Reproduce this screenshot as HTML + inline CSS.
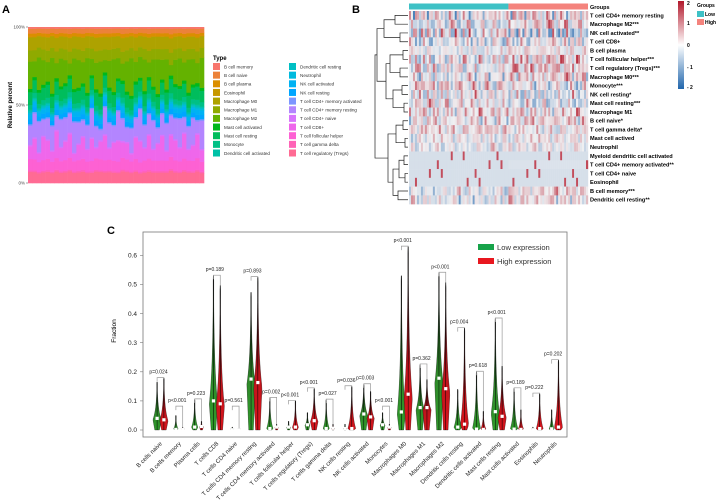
<!DOCTYPE html>
<html><head><meta charset="utf-8"><style>
body{margin:0;background:#fff;}
svg{display:block;font-family:"Liberation Sans",Arial,sans-serif;}
</style></head><body>
<svg id="fig" width="716" height="504" viewBox="0 0 716 504" xmlns="http://www.w3.org/2000/svg">
<defs>
<linearGradient id="gGreen" x1="0" y1="1" x2="0" y2="0"><stop offset="0" stop-color="#2f9a2a"/><stop offset="0.35" stop-color="#2f8a2a"/><stop offset="1" stop-color="#000"/></linearGradient>
<linearGradient id="gRed" x1="0" y1="1" x2="0" y2="0"><stop offset="0" stop-color="#d8141c"/><stop offset="0.35" stop-color="#c0141c"/><stop offset="1" stop-color="#000"/></linearGradient>
<linearGradient id="gScale" x1="0" y1="0" x2="0" y2="1"><stop offset="0" stop-color="#b2182b"/><stop offset="0.5" stop-color="#ffffff"/><stop offset="1" stop-color="#2166ac"/></linearGradient>
</defs>
<text x="2" y="13" font-size="11" font-weight="bold">A</text>
<text x="352" y="13" font-size="11" font-weight="bold">B</text>
<text x="107" y="234" font-size="11" font-weight="bold">C</text>
<g id="panelA"></g>
<g id="panelB"></g>
<g id="panelC"></g>
</svg>
<script>
// ---------- Panel A data ----------
const typeNames = ["B cell memory","B cell naive","B cell plasma","Eosinophil","Macrophage M0","Macrophage M1","Macrophage M2","Mast cell activated","Mast cell resting","Monocyte","Dendritic cell activated","Dendritic cell resting","Neutrophil","NK cell activated","NK cell resting","T cell CD4+ memory activated","T cell CD4+ memory resting","T cell CD4+ naive","T cell CD8+","T cell follicular helper","T cell gamma delta","T cell regulatory (Tregs)"];
const typeMeans = [0.01,0.03,0.02,0.005,0.08,0.07,0.15,0.02,0.08,0.03,0.01,0.01,0.01,0.03,0.03,0.01,0.15,0.01,0.10,0.07,0.01,0.07];
const sampleM2Shift = [0.02,-0.05,0.08,0.01,-0.03,0.10,-0.06,0.04,0.00,-0.08,0.06,0.03,-0.02,0.09,-0.04,0.01,0.05,-0.07,0.02,0.07,-0.01,-0.05,0.04,0.11,-0.03,0.00,0.06,-0.06,0.03,0.08,-0.02,0.05,-0.09,0.01,0.04,-0.04,0.07,0.02,-0.03,0.06];
const sampleCD8Shift = [-0.02,0.03,-0.04,0.05,0.01,-0.03,0.06,-0.01,0.02,0.04,-0.05,0.00,0.03,-0.02,0.05,-0.04,0.01,0.06,-0.03,0.02,0.04,-0.01,0.00,-0.05,0.03,0.05,-0.02,0.04,-0.03,0.01,0.06,-0.04,0.02,0.03,-0.01,0.05,-0.03,0.00,0.04,-0.02];
const pctTicks = ["0%","50%","100%"];
// ---------- Panel B data ----------
const hmRows = ["T cell CD4+ memory resting","Macrophage M2***","NK cell activated**","T cell CD8+","B cell plasma","T cell follicular helper***","T cell regulatory (Tregs)***","Macrophage M0***","Monocyte***","NK cell resting*","Mast cell resting***","Macrophage M1","B cell naive*","T cell gamma delta*","Mast cell actived","Neutrophil","Myeloid dendritic cell activated","T cell CD4+ memory activated**","T cell CD4+ naive","Eosinophil","B cell memory***","Dendritic cell resting**"];
const hmLowMean = [-0.1,-0.2,0.2,-0.1,-0.2,-0.2,-0.2,-0.2,0.2,0.1,0.2,0.0,-0.1,0.1,-0.1,-0.1,-0.3,-0.3,-0.3,-0.3,-0.3,-0.2];
const hmHighMean = [0.1,0.2,-0.2,0.1,0.0,0.2,0.2,0.2,-0.2,-0.1,-0.2,0.0,0.1,-0.1,0.0,0.0,-0.3,-0.25,-0.3,-0.3,0.1,0.1];
const hmSpread = [0.8,0.8,0.8,0.8,0.5,0.8,0.8,0.7,0.8,0.6,0.8,0.8,0.6,0.6,0.5,0.5,0.2,0.3,0.25,0.1,0.6,0.6];
const hmPattern = [0.8,-1.2,0.3,1.6,-0.4,-0.9,2.0,0.1,-1.5,0.6,-0.2,1.1,-0.7,0.4,-1.8,0.9,0.0,-0.5,1.4,-1.0,0.2,0.7,-1.3,1.8,-0.3,0.5,-0.8,1.2,-0.1,-1.6,0.6,0.3,-0.6,1.0,-1.1,0.1,2.2,-0.4,0.8,-0.9,0.4,-1.4,1.5,0.0,-0.2,0.9,-0.7,0.2,1.3];
const scaleTicks = [2,1,0,-1,-2];
// ---------- Panel C data ----------
const cellTypes = ["B cells naive","B cells memory","Plasma cells","T cells CD8","T cells CD4 naive","T cells CD4 memory resting","T cells CD4 memory activated","T cells follicular helper","T cells regulatory (Tregs)","T cells gamma delta","NK cells resting","NK cells activated","Monocytes","Macrophages M0","Macrophages M1","Macrophages M2","Dendritic cells resting","Dendritic cells activated","Mast cells resting","Mast cells activated","Eosinophils","Neutrophils"];
const lowMax = [0.165,0.05,0.105,0.53,0.01,0.473,0.11,0.03,0.06,0.104,0.02,0.157,0.06,0.53,0.225,0.54,0.14,0.2,0.383,0.143,0.01,0.07];
const highMax = [0.178,0.01,0.03,0.497,0.005,0.525,0.02,0.1,0.143,0.02,0.15,0.133,0.02,0.63,0.174,0.507,0.35,0.065,0.22,0.07,0.125,0.24];
const lowMed = [0.04,0.002,0.01,0.1,0.001,0.175,0.005,0.01,0.018,0.005,0.005,0.055,0.018,0.062,0.077,0.178,0.01,0.003,0.063,0.003,0.001,0.004];
const highMed = [0.035,0.002,0.012,0.09,0.001,0.163,0.01,0.01,0.032,0.006,0.005,0.045,0.01,0.123,0.077,0.142,0.02,0.002,0.047,0.002,0.005,0.01];
const pLabels = ["p=0.024","p<0.001","p=0.223","p=0.189","p=0.561","p=0.893","p=0.002","p<0.001","p<0.001","p=0.027","p=0.036","p=0.003","p<0.001","p<0.001","p=0.362","p<0.001","p=0.004","p=0.618","p<0.001","p=0.189","p=0.222","p=0.202"];
const yTicksC = [0,0.1,0.2,0.3,0.4,0.5,0.6];

const NS="http://www.w3.org/2000/svg";
function mk(tag, attrs, parent){const e=document.createElementNS(NS,tag);for(const k in attrs)e.setAttribute(k,attrs[k]);parent.appendChild(e);return e;}
function hclLuv(h,c,l){ // polar LUV -> sRGB (as in R hcl / ggplot hue)
  const hr=h*Math.PI/180, u=Math.cos(hr)*c, v=Math.sin(hr)*c;
  const Y=Math.pow((l+16)/116,3);
  const un=0.1978398, vn=0.4683363;
  const up=u/(13*l)+un, vp=v/(13*l)+vn;
  const X=Y*9*up/(4*vp), Z=Y*(12-3*up-20*vp)/(4*vp);
  let r=3.2406*X-1.5372*Y-0.4986*Z, g=-0.9689*X+1.8758*Y+0.0415*Z, b=0.0557*X-0.2040*Y+1.0570*Z;
  const gm=t=>{t=t>0.0031308?1.055*Math.pow(t,1/2.4)-0.055:12.92*t;return Math.round(Math.max(0,Math.min(1,t))*255);};
  return `rgb(${gm(r)},${gm(g)},${gm(b)})`;
}
const typeColors = typeNames.map((_,i)=>hclLuv(15+360*i/typeNames.length,100,65));

// ---------- Panel A ----------
(function(){
  const g=document.getElementById('panelA');
  const x0=28,x1=204,yTop=27,yBot=183;
  const yS=v=>yBot-(yBot-yTop)*v;
  const n=sampleM2Shift.length, bw=(x1-x0)/n;
  for(let s=0;s<n;s++){
    const vals=typeMeans.slice();
    vals[6]=Math.max(0.01,vals[6]+sampleM2Shift[s]);
    vals[18]=Math.max(0.01,vals[18]+sampleCD8Shift[s]);
    vals[16]=Math.max(0.02,vals[16]-sampleM2Shift[(s+7)%n]*0.8);
    const tot=vals.reduce((a,b)=>a+b,0);
    let cum=0;
    for(let i=typeNames.length-1;i>=0;i--){
      const v=vals[i]/tot;
      const r=mk('rect',{x:(x0+s*bw).toFixed(2),y:yS(cum+v).toFixed(2),width:(bw+0.3).toFixed(2),height:((yBot-yTop)*v+0.3).toFixed(2),fill:typeColors[i]},g);
      
      
      cum+=v;
    }
  }
  pctTicks.forEach((t,i)=>{
    const v=i/2;
    const tx=mk('text',{x:x0-3,y:yS(v)+1.5,'font-size':4.5,'text-anchor':'end',fill:'#444'},g);tx.textContent=t;
    
    
    mk('line',{x1:x0-2,x2:x0,y1:yS(v),y2:yS(v),stroke:'#444','stroke-width':0.5},g);
  });
  const yl=mk('text',{x:12,y:105,'font-size':6,'font-weight':'bold','text-anchor':'middle',transform:'rotate(-90 12 105)'},g);yl.textContent='Relative percent';
  
  
  const lt=mk('text',{x:213,y:60,'font-size':6,'font-weight':'bold'},g);lt.textContent='Type';
  
  
  typeNames.forEach((nm,i)=>{
    const col=i<11?0:1, row=i%11;
    const lx=col?289:213, ly=63+row*8.65;
    const leg=mk('g',{},g);
    
    
    mk('rect',{x:lx,y:ly,width:7,height:7,fill:typeColors[i]},leg);
    const t=mk('text',{x:lx+11,y:ly+5.3,'font-size':4.6,fill:'#333'},leg);t.textContent=nm;
  });
})();

// ---------- Panel B ----------
(function(){
  const g=document.getElementById('panelB');
  const x0=409,x1=588,yTop=11,rowH=8.78,nCols=90,lowCols=50;
  const cw=(x1-x0)/nCols;
  const col=v=>{v=Math.max(-2,Math.min(2,v));
    if(v>=0){const t=v/2;return `rgb(${Math.round(240-(240-178)*t)},${Math.round(240-(240-24)*t)},${Math.round(242-(242-43)*t)})`;}
    const t=-v/2;return `rgb(${Math.round(240-(240-33)*t)},${Math.round(240-(240-102)*t)},${Math.round(242-(242-172)*t)})`;};
  const gb1=mk('rect',{x:x0,y:3.5,width:cw*lowCols,height:6,fill:'#3ec1c6'},g);
  
  
  const gb2=mk('rect',{x:x0+cw*lowCols,y:3.5,width:cw*(nCols-lowCols),height:6,fill:'#f4837d'},g);
  
  
  const gl=mk('text',{x:590,y:9,'font-size':5.5,'font-weight':'bold'},g);gl.textContent='Groups';
  
  
  const P=hmPattern.length;
  hmRows.forEach((nm,r)=>{
    for(let c=0;c<nCols;c++){
      const base=c<lowCols?hmLowMean[r]:hmHighMean[r];
      let d=(hmPattern[(c*7+r*11)%P]*0.6+hmPattern[(c*13+r*5+3)%P]*0.5)*hmSpread[r];
      if(hmSpread[r]<0.4){ d=hmPattern[(c*5+r*3)%P]>1.7?1.8:0.05; }
      const cell=mk('rect',{x:(x0+c*cw).toFixed(2),y:(yTop+r*rowH).toFixed(2),width:(cw+0.2).toFixed(2),height:rowH+0.2,fill:col(base+d)},g);
      
      
    }
    const t=mk('text',{x:590,y:yTop+r*rowH+6.3,'font-size':5.6,'font-weight':'bold'},g);t.textContent=nm;
    
    
  });
  const yc=r=>yTop+(r+0.5)*rowH;
  const dg=mk('g',{stroke:'#222','stroke-width':0.7,fill:'none'},g);
  
  
  const d=[[0,1,395],[2,3,400],[4,5,403],[6,7,400],[8,9,402],[10,11,404],[12,13,403],[14,15,405],[16,17,404],[18,19,405],[20,21,398]];
  const mids=d.map(([a,b,x])=>{mk('path',{d:`M408 ${yc(a)}H${x}V${yc(b)}H408`},dg);return [(yc(a)+yc(b))/2,x];});
  const join=(m1,m2,x)=>{mk('path',{d:`M${m1[1]} ${m1[0]}H${x}V${m2[0]}H${m2[1]}`},dg);return [(m1[0]+m2[0])/2,x];};
  const a1=join(mids[0],mids[1],384), a2=join(mids[2],mids[3],390);
  const a3=join(mids[4],mids[5],393), a4=join(mids[6],mids[7],396);
  const a5=join(mids[8],mids[9],399), a6=join(a5,mids[10],393);
  const b1=join(a2,a3,386), b2=join(a1,b1,377);
  const b3=join(a4,a6,388), b4=join(b3,b2,375);
  const sc=mk('rect',{x:678,y:1,width:6,height:88,fill:'url(#gScale)'},g);
  
  
  scaleTicks.forEach((v,i)=>{
    const t=mk('text',{x:687,y:1+88*(2-v)/4+ (i===0?4:i===4?0:2),'font-size':5,'font-weight':'bold'},g);t.textContent=v<0?('- '+(-v)):v;
    
    
  });
  const gt=mk('text',{x:697,y:7,'font-size':5,'font-weight':'bold'},g);gt.textContent='Groups';
  
  
  [['Low','#3ec1c6',11],['High','#f4837d',19]].forEach(([n,c,y])=>{
    const e=mk('g',{},g);
    
    
    mk('rect',{x:697,y:y,width:7,height:6,fill:c},e);
    const t=mk('text',{x:705,y:y+5,'font-size':5,'font-weight':'bold'},e);t.textContent=n;
  });
})();

// ---------- Panel C ----------
(function(){
  const g=document.getElementById('panelC');
  const fx0=143,fx1=567,fyTop=232,fyBot=437;
  const yS=v=>430-v*291;
  const xc=i=>160.5+i*18.79;
  const fr=mk('rect',{x:fx0,y:fyTop,width:fx1-fx0,height:fyBot-fyTop,fill:'none',stroke:'#777','stroke-width':0.8},g);
  
  
  yTicksC.forEach(v=>{
    mk('line',{x1:fx0-3,x2:fx0,y1:yS(v),y2:yS(v),stroke:'#777','stroke-width':0.6},g);
    const t=mk('text',{x:fx0-6,y:yS(v)+2.2,'font-size':6.5,'text-anchor':'end',fill:'#222'},g);t.textContent=v.toFixed(1);
    
    
  });
  const yl=mk('text',{x:116,y:331,'font-size':6.5,'text-anchor':'middle',transform:'rotate(-90 116 331)'},g);yl.textContent='Fraction';
  
  
  function violin(cx,vmax,med,fill,name){
    const hw=4.2, mode=Math.max(med*0.9,0.004), N=30;
    const pts=[];
    for(let k=0;k<=N;k++){
      const v=vmax*k/N;
      let f;
      if(v<=mode) f=0.55+0.45*(v/mode);
      else f=Math.exp(-(v-mode)/Math.max((vmax-mode)/3.2,0.002));
      let w=hw*f*Math.min(1,0.35+vmax*4); w=Math.max(w,0.35);
      if(k===N) w=0.2;
      pts.push([v,w]);
    }
    let d=`M${cx} ${yS(0)}`;
    pts.forEach(([v,w])=>d+=`L${(cx+w).toFixed(2)} ${yS(v).toFixed(2)}`);
    for(let k=pts.length-1;k>=0;k--) d+=`L${(cx-pts[k][1]).toFixed(2)} ${yS(pts[k][0]).toFixed(2)}`;
    d+='Z';
    const p=mk('path',{d,fill:fill,stroke:'#111','stroke-width':0.3},g);
    
    
    mk('line',{x1:cx,x2:cx,y1:yS(0),y2:yS(vmax),stroke:'#000','stroke-width':0.5},g);
    const m=mk('rect',{x:cx-1.6,y:yS(med)-1.6,width:3.2,height:3.2,fill:'#fff'},g);
    
    
  }
  cellTypes.forEach((nm,i)=>{
    const cx=xc(i), gx=cx-3.4, rx=cx+3.4;
    violin(gx,lowMax[i],lowMed[i],'url(#gGreen)','violin-low');
    violin(rx,highMax[i],highMed[i],'url(#gRed)','violin-high');
    const top=Math.max(lowMax[i],highMax[i]);
    const by=yS(Math.max(top,0.08)+0.002);
    const br=mk('path',{d:`M${gx} ${by+4}V${by}H${rx}V${yS(highMax[i])}`,fill:'none',stroke:'#999','stroke-width':0.7},g);
    
    
    const pt=mk('text',{x:cx-2,y:by-4,'font-size':5,'text-anchor':'middle',fill:'#222'},g);pt.textContent=pLabels[i];
    
    
    const xt=mk('text',{x:cx+2,y:444,'font-size':6,'text-anchor':'end',fill:'#222',transform:`rotate(-45 ${cx+2} 444)`},g);xt.textContent=nm;
    
    
  });
  [['Low expression','#17a34a',244],['High expression','#e8171f',258]].forEach(([n,c,y])=>{
    const e=mk('g',{},g);
    
    
    mk('rect',{x:478,y:y,width:16,height:6,fill:c},e);
    const t=mk('text',{x:497,y:y+6,'font-size':7.6,fill:'#333'},e);t.textContent=n;
  });
})();
</script>
</body></html>
